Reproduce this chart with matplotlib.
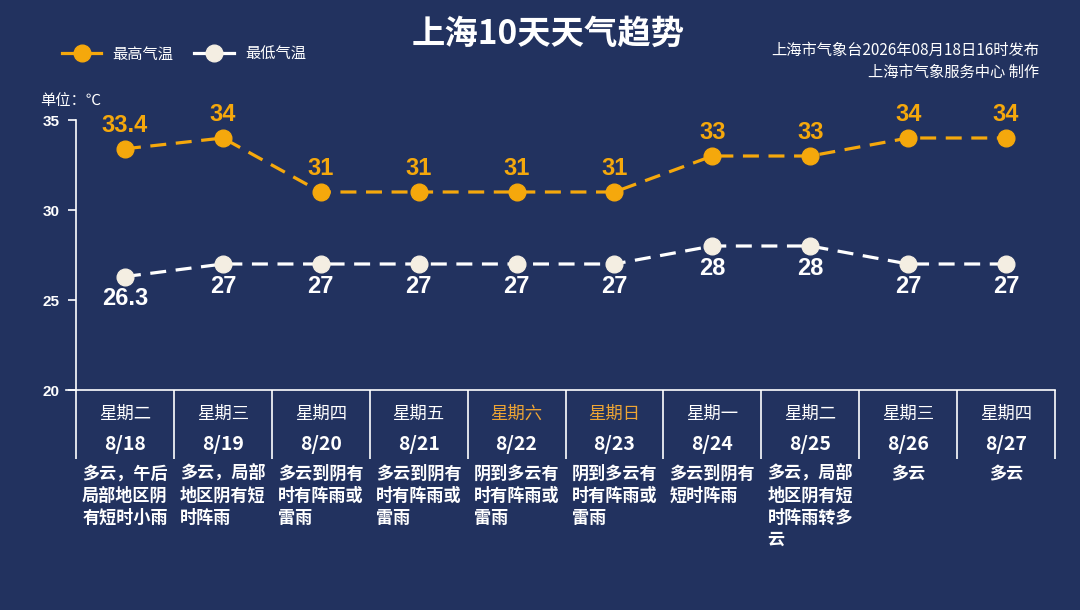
import matplotlib
matplotlib.use("Agg")
import matplotlib.pyplot as plt
from matplotlib.lines import Line2D

plt.rcParams['font.family'] = ['Noto Sans CJK SC', 'DejaVu Sans']
plt.rcParams['axes.unicode_minus'] = False

# 数据
dates = ['8/18', '8/19', '8/20', '8/21', '8/22', '8/23', '8/24', '8/25', '8/26', '8/27']
weekdays = ['星期二', '星期三', '星期四', '星期五', '星期六', '星期日', '星期一', '星期二', '星期三', '星期四']
high_temp = [33.4, 34, 31, 31, 31, 31, 33, 33, 34, 34]
low_temp = [26.3, 27, 27, 27, 27, 27, 28, 28, 27, 27]
weather = ['多云，午后局部地区阴有短时小雨', '多云，局部地区阴有短时阵雨', '多云到阴有时有阵雨或雷雨',
           '多云到阴有时有阵雨或雷雨', '阴到多云有时有阵雨或雷雨', '阴到多云有时有阵雨或雷雨',
           '多云到阴有短时阵雨', '多云，局部地区阴有短时阵雨转多云', '多云', '多云']
weekend = ['星期六', '星期日']
yticks = [20, 25, 30, 35]

bg = '#22325f'
orange = '#f5a80c'
cream = '#f4eee2'

W, H = 1080, 610
fig = plt.figure(figsize=(W / 100, H / 100), dpi=100, facecolor=bg)
# 绘图区：x 76~1055 像素，y 120~390 像素
ax = fig.add_axes([76 / W, 1 - 390 / H, (1055 - 76) / W, (390 - 120) / H])
ax.set_facecolor(bg)
n = len(dates)
x = list(range(n))
ax.set_xlim(-0.5, n - 0.5)
ax.set_ylim(20, 35)

for s in ['top', 'right', 'bottom']:
    ax.spines[s].set_visible(False)
ax.spines['left'].set_color('white')
ax.spines['left'].set_linewidth(1.2)
ax.set_xticks([])
ax.set_yticks(yticks)
ax.set_yticklabels([str(t) for t in yticks], fontsize=11, fontweight='bold', color='white',
                   family=['Liberation Sans', 'DejaVu Sans'])
ax.tick_params(axis='y', colors='white', length=6, width=1.2, pad=6)

# 折线
ax.plot(x, high_temp, color=orange, lw=2.3, dashes=(5, 3), marker='o', markersize=12,
        markerfacecolor=orange, markeredgecolor=orange, zorder=3, clip_on=False)
ax.plot(x, low_temp, color='white', lw=2.3, dashes=(5, 3), marker='o', markersize=12,
        markerfacecolor=cream, markeredgecolor=cream, zorder=3, clip_on=False)

for i in x:
    ax.annotate(f'{high_temp[i]:g}', (i, high_temp[i]), xytext=(0, 17), textcoords='offset points',
                ha='center', va='center', fontsize=17, fontweight='bold', color=orange,
                family=['Liberation Sans', 'DejaVu Sans'])
    ax.annotate(f'{low_temp[i]:g}', (i, low_temp[i]), xytext=(0, -16), textcoords='offset points',
                ha='center', va='center', fontsize=17, fontweight='bold', color='white',
                family=['Liberation Sans', 'DejaVu Sans'])

# 底部表格
px = 15 / 270  # 每像素对应的温度
ax.plot([-0.5 - 10 / 97.9, n - 0.5], [20, 20], color='white', lw=1.2, clip_on=False)
ax.vlines([i - 0.5 for i in range(n + 1)], 20 - 69 * px, 20, color='white', lw=1.2, clip_on=False)
for i in x:
    c = '#eea534' if weekdays[i] in weekend else 'white'
    ax.text(i, 20 - 24 * px, weekdays[i], ha='center', va='center', fontsize=12.5, color=c, clip_on=False)
    ax.text(i, 20 - 54 * px, dates[i], ha='center', va='center', fontsize=14, fontweight='bold',
            color='white', clip_on=False)
    txt = weather[i]
    lines = [txt[k:k + 5] for k in range(0, len(txt), 5)]
    ax.text(i, 20 - 75 * px, '\n'.join(lines), ha='center', va='top', multialignment='left',
            fontsize=12.3, fontweight='bold', color='white', linespacing=1.28, clip_on=False)

# 标题及说明
fig.text(548 / W, 1 - 34 / H, '上海10天天气趋势', ha='center', va='center', fontsize=24,
         fontweight='bold', color='white')
fig.text(1039 / W, 1 - 50 / H, '上海市气象台2026年08月18日16时发布', ha='right', va='center',
         fontsize=11, color='white')
fig.text(1039 / W, 1 - 72 / H, '上海市气象服务中心 制作', ha='right', va='center',
         fontsize=11, color='white')
fig.text(40 / W, 1 - 100 / H, '单位：℃', ha='left', va='center', fontsize=11, color='white')

handles = [Line2D([], [], color=orange, lw=2.3, marker='o', markersize=12, markerfacecolor=orange,
                  markeredgecolor=orange),
           Line2D([], [], color='white', lw=2.3, marker='o', markersize=12, markerfacecolor=cream,
                  markeredgecolor=cream)]
leg = fig.legend(handles, ['最高气温', '最低气温'], loc='center left',
                 bbox_to_anchor=(54 / W, 1 - 54 / H), ncol=2, frameon=False, fontsize=11,
                 handlelength=2.6, handletextpad=0.7, columnspacing=1.4, borderpad=0)
for t in leg.get_texts():
    t.set_color('white')

fig.savefig('out.png', dpi=100, facecolor=bg)
